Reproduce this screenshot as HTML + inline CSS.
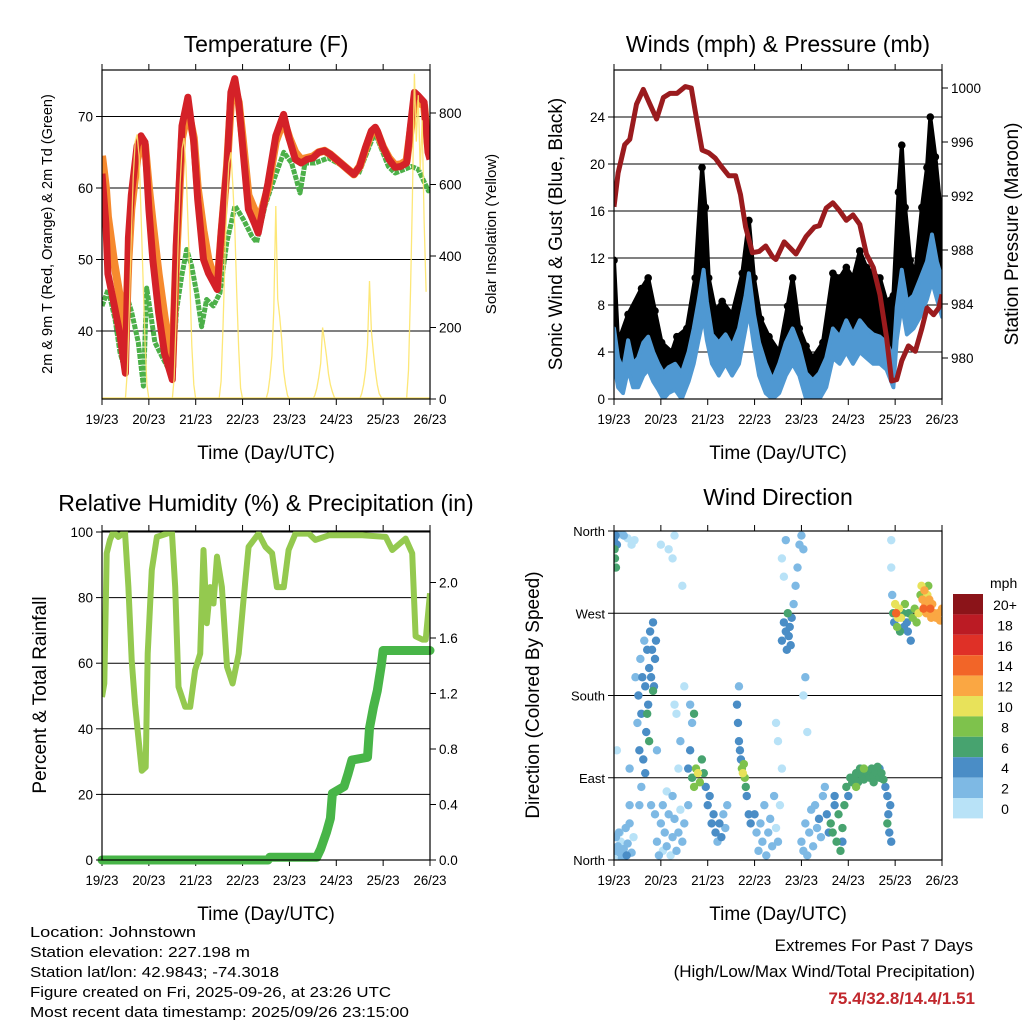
<!DOCTYPE html>
<html><head><meta charset="utf-8"><style>
html,body{margin:0;padding:0;background:#fff}
svg{display:block;font-family:"Liberation Sans",sans-serif}
</style></head><body>
<svg id="s" width="1024" height="1024" viewBox="0 0 1024 1024">
<defs>
<clipPath id="c1"><rect x="102" y="70" width="328" height="329"/></clipPath>
<clipPath id="c2"><rect x="614" y="70" width="328" height="329"/></clipPath>
<clipPath id="c3"><rect x="102" y="531" width="328" height="329"/></clipPath>
<clipPath id="c4"><rect x="614" y="531" width="328" height="329"/></clipPath>
</defs>
<g id="g1"></g>
<g id="g2"></g>
<g id="g3"></g>
<g id="g4"></g>
<g font-size="14.5">
<text x="30" y="937" textLength="166" lengthAdjust="spacingAndGlyphs">Location: Johnstown</text>
<text x="30" y="957" textLength="220" lengthAdjust="spacingAndGlyphs">Station elevation: 227.198 m</text>
<text x="30" y="977" textLength="249" lengthAdjust="spacingAndGlyphs">Station lat/lon: 42.9843; -74.3018</text>
<text x="30" y="997" textLength="361" lengthAdjust="spacingAndGlyphs">Figure created on Fri, 2025-09-26, at 23:26 UTC</text>
<text x="30" y="1017" textLength="379" lengthAdjust="spacingAndGlyphs">Most recent data timestamp: 2025/09/26 23:15:00</text>
</g>
<g font-size="17" text-anchor="end">
<text x="973" y="951">Extremes For Past 7 Days</text>
<text x="975" y="977">(High/Low/Max Wind/Total Precipitation)</text>
<text x="975" y="1004" fill="#c1272d" font-weight="bold">75.4/32.8/14.4/1.51</text>
</g>
</svg>
<script>
// ---------- data ----------
const dayLabels=["19/23","20/23","21/23","22/23","23/23","24/23","25/23","26/23"];
const tHours=[0,2,3,6,9,12,13.5,15,18,20,22,24,26,29,32,36,38,41,44,47,49,52,54.5,59,61,64,66,68,70,72,75,78,80,82,85,89,93,96,99,102,105,108,111,114,117,120,123,126,129,132,135,138,140,141,144,147,150,153,156,158,160,162,165,167,168];
const tRed=[62,55,48,44,39.8,34.1,53,59,65.9,67.3,66.4,57,50,42.6,36.9,33.2,51.9,68.7,72.7,66.4,58.4,50,48.1,45.8,53.7,63.1,73.4,75.3,72,65.9,57,55.1,53.7,56.5,60.7,67.3,70.3,66.8,64,63.5,64,64.2,65,65.2,64.7,64,63.3,62.6,61.9,63,65.7,68,68.5,68,65.7,64,62.9,63,63.5,68.7,73.4,72.9,72,65,64];
const tOrange=[64.5,60,56,50,45,38,50,57,64,66,66,60,55,48,42,35,50,67,71,67,60,54,50,46,53,63,72,74,72,67,59,57,55,57,60,66.5,69.5,67,65,64,64.2,64.4,65,65.2,64.7,64,63.3,62.6,61.9,63,65.5,67.8,68.3,67.8,65.7,64.2,63.2,63.3,63.8,68,72,72,71.5,66,65];
const tdHours=[0,3.2,6.7,9.2,11.8,12.6,15.2,18.6,21.2,22.9,24.6,27.1,30.6,36,38.2,40.8,43.4,45.9,48.5,51,53.6,57,60.4,63.9,68.1,72.4,76.7,79.2,83.5,86.9,93.1,97.1,99.7,101.4,104,109.1,115.9,131.3,139.8,146.7,150.1,158.6,162,167.2,168];
const tDew=[43.5,45.8,41.6,37,34.6,45,42.6,38.4,32.3,46,43,38.4,36.5,33.7,43,47.7,51.4,49.1,45.3,40.6,44.4,43.5,45.3,52.4,57.5,55.6,53.3,52.4,57.5,60.3,65,63.5,61,59.3,63.5,63.5,64.2,61.9,67.8,63,62.1,63,62.6,59.6,60];
const solarDayStart=[0,24,48,72,96,120,144];
const solarDaily=[
[0,80,250,450,620,720,740,680,520,340,160,40,0],
[0,60,230,430,600,700,730,650,500,330,150,40,0],
[0,50,200,400,560,660,690,600,480,300,140,30,0],
[0,20,60,120,250,540,280,230,170,80,40,10,0],
[0,10,30,60,100,200,160,120,70,40,20,5,0],
[0,15,40,80,150,330,190,130,80,40,15,5,0],
[0,80,300,560,910,720,850,640,780,500,300]];
const tempTicks=[40,50,60,70];
const solarTicks=[0,200,400,600,800];

const wHours=[0,2.1,4.6,7.2,9.8,12.4,15,17.5,20.1,22.7,25.3,27.9,31.3,34.7,38.2,40.8,43.3,45.9,47.6,50.2,53.7,57.1,60.5,64,67.4,69.1,71.7,74.3,77.7,81.2,84.6,88,91.5,94.9,98.4,101.8,105.2,108.7,112.1,115.6,119,122.4,125.9,129.3,132.8,136.2,139.6,143.1,144.8,147.4,150,153.4,156.8,160.3,162.9,165.4,168];
const wSpeed=[6,3.5,2.5,5,3,3.5,4.8,5.3,4,3,2.2,2.7,3,2.2,4,6,8.3,11,8.3,5.5,4.8,5.5,4.5,6,8.8,10.7,7.2,4.8,3,1.6,3,4.8,6,4.5,2.2,1.6,2.2,3.5,6,5.3,6.7,5.5,6.7,6,5.5,5.3,4.8,3.5,7.8,11,8.3,8.8,10.2,11.7,14,11.7,10.2];
const wMin=[3,1,0.5,2.5,1,1,2,2.5,1.5,0.8,0,0.5,0.8,0,1.5,3,5,7,5,3,2,3,2,3,6,7.5,4.5,2,0.5,0,0.5,2,3,2,0,0,0,1,3.5,3,4,3,4,3.5,3,3,2.5,1,5,8,5.5,6,7,8.5,10,8.5,7];
const gHours=[0,2.1,7.2,14.1,17.5,21,24.4,29.6,32.2,37.3,41.6,45.1,46.8,48.5,51.9,55.4,60.5,65.7,69.1,71.7,75.1,79.4,84.6,88.9,91.5,94.9,98.4,101.8,107,112.1,115.6,119,122.4,125.9,129.3,132.8,136.2,139.6,143.1,145.7,147.4,149.1,151.7,154.3,157.7,160.3,162,164.6,167.2,168];
const gSpeed=[11.8,4.8,7.2,9.4,10.3,7.5,4.8,4,5.3,6,10.3,19.7,16.3,10.3,7.5,8.3,7.2,10.7,15.2,10.3,6.8,5.3,4,7.9,10.3,6,4.5,3.5,4.8,10.7,10.3,11.2,10.3,12.6,11.2,10.7,10.3,8.3,8.8,17.6,21.6,16.3,11.8,10.7,16.3,19.7,24,20.6,16.3,11.8];
const pHours=[0,2.1,5.5,8.1,11.5,15,18.4,21.8,25.3,28.7,32.2,36.5,39.6,41.6,45.1,48.5,51.9,55.4,58.8,62.3,64.8,67.4,70.9,74.3,77.7,81.2,82.9,87.2,93.2,98.4,102.7,105.2,108.7,112.1,115.6,119,122.4,125.9,129.3,132.8,136.2,139.6,142.2,144.8,147.4,150.8,154.3,157.7,160.3,163.7,166.3,168];
const pValues=[991.2,993.7,995.8,996.2,998.8,999.9,998.8,997.7,999.3,999.6,999.6,1000.1,1000,998.3,995.4,995.2,994.8,994.1,993.5,993.5,992.1,989.7,987.8,987.9,988.3,987.5,987.3,988.6,987.7,989,989.7,989.8,991.1,991.5,990.9,990.2,990.6,989.9,987.7,986.7,984.7,981.5,978.3,978.4,979.8,980.9,980.5,982.2,983.7,983.2,983.7,984.7];
const windTicks=[0,4,8,12,16,20,24];
const presTicks=[980,984,988,992,996,1000];

const rhHours=[0,1.2,2.4,4.1,5.8,8.4,11.8,13.5,15.2,16.9,18.6,20.4,22.4,23.4,25.5,28.1,35.8,37.5,39.2,42.6,45.2,47.7,50.3,52,53.7,55.4,57.1,58.9,61.4,64,66.9,70,72.5,75.1,80.2,83.7,87.1,89.6,93.1,95.6,99.1,105.9,109.3,116.2,133.3,145.3,148.7,155.5,158.9,160.6,164.1,165.8,168];
const rhValues=[49.7,53.8,93.5,97.6,100,98.5,100,83.2,60.9,47.6,37.5,27.2,28.3,62.9,88.4,98.5,100,83.2,52.8,46.7,46.7,57.9,62.9,94.5,72.2,83.2,78.2,92.5,83.2,58.9,53.8,62.9,79.3,95.5,99.5,95.5,93.5,83.2,83.2,94.5,99.5,99.5,97.6,99,99,98.5,94.5,98,93.5,68.2,67.2,67.2,81.3];
const prHours=[0,85,86,110,112,115,117,118,124,126,128,136,137,139,141,143,144,168];
const prValues=[0,0,0.02,0.02,0.08,0.2,0.3,0.48,0.53,0.62,0.72,0.74,0.95,1.1,1.22,1.4,1.51,1.51];
const rhTicks=[0,20,40,60,80,100];
const prTicks=[0,0.4,0.8,1.2,1.6,2.0];

const dHours=[0,0.3,0.5,0.8,1,1.5,2,0.5,1,1.5,2,2.5,3,3.5,4,5,6,6.5,7,8,9,10,2.5,4,5,7,9,10.5,1.5,3,8,8,11,
12,12.5,13,13.5,14,14.5,15,15.5,16,16.5,17,17.5,18,18.5,19,19.5,20,20.5,21,21.5,22,18,20,17,16,14,13,19,21,
22,23,24,25,26,27,28,29,30,31,32,33,34,35,36,25,27,30,33,34,24,28,30,31,35,36,31,32,
38,39,40,41,42,43,44,45,46,47,48,49,50,51,52,53,54,55,56,57,58,40,41,39,38,
63,63.5,64,64.5,65,65.5,66,66.5,67,67.5,68,69,70,64,
72,73,74,75,76,77,78,79,80,81,82,83,84,85,86,84,83,
86,87,88,88.5,89,89.5,90,90.5,91,92,93,94,95,96,97,86,87,88,98,97,99,
96,97,98,99,100,101,102,103,104,105,106,107,108,109,110,
111,112,113,114,115,116,117,118,119,120,121,122,113,117,
123,124,125,126,127,128,129,130,131,132,133,134,135,136,137,138,139,124,128,133,136,
140,140.5,141,141.5,142,140,
142,142,142.5,143,143.5,144,144.5,145,145.5,146,146.5,147,148,148.5,149,150,150.5,151,152,153,154,155,156,157,157.5,158,158.5,159,159.5,160,160.5,161,161.5,162,162.5,163,164,165,166,167,168];
const dDeg=[350,340,330,355,320,345,358,10,25,5,15,30,8,20,2,12,35,5,18,40,8,25,356,358,355,352,345,350,120,30,60,100,200,
150,180,120,220,160,200,110,240,190,140,230,170,210,250,200,230,260,190,220,240,120,130,185,160,95,80,60,60,50,
20,5,40,10,30,15,50,5,25,45,10,30,55,20,40,60,75,70,100,130,345,340,330,355,300,190,170,160,
100,120,90,80,100,95,85,110,95,80,60,70,40,50,30,20,40,25,50,35,60,150,160,170,60,
170,150,130,120,110,100,95,105,90,80,70,50,40,190,
50,30,10,40,20,60,5,30,45,15,70,35,20,60,100,130,150,
240,260,250,230,270,245,255,235,265,280,300,320,345,355,340,330,310,350,200,180,140,
20,10,40,5,30,55,15,60,35,45,25,70,80,50,30,
40,30,60,20,50,10,35,60,80,70,90,85,70,20,
90,95,85,100,92,88,98,95,90,100,92,96,102,90,95,88,80,80,100,85,100,
70,50,30,60,20,40,
350,320,290,270,260,280,270,255,265,275,250,265,270,255,280,260,250,270,240,265,275,260,270,290,300,285,275,295,280,270,290,300,285,275,265,280,270,265,270,262,275];
const dSpeed=[5,6,6,5,6,4,3,2,2,1,2,2,2,1,2,2,2,4,2,2,2,1,1,1,2,1,1,1,1,1,2,2,2,
3,4,4,3,4,4,4,3,4,4,4,5,4,4,5,4,4,5,4,4,3,6,6,6,4,2,2,3,2,
2,2,2,1,2,2,2,1,2,2,2,2,1,3,2,2,1,2,1,2,1,1,1,1,1,1,1,1,
4,4,6,8,9,10,8,7,6,5,4,5,4,4,4,3,4,4,3,3,3,3,7,2,3,
4,4,4,4,4,8,10,9,8,6,4,4,4,3,
4,3,2,2,2,2,2,2,2,2,2,1,2,1,1,1,1,
4,4,4,4,6,4,4,4,4,3,3,3,2,2,2,1,1,2,2,1,1,
2,2,2,2,2,2,2,2,3,4,3,3,2,4,4,
6,6,5,6,6,6,6,6,6,5,6,6,4,4,
6,6,6,6,6,6,6,6,6,6,6,6,6,6,6,6,5,8,8,7,4,
4,4,4,5,4,6,
1,1,3,6,5,10,14,8,10,10,6,10,6,4,8,5,4,6,4,8,9,8,10,8,10,12,14,12,13,12,10,8,12,14,12,12,12,12,12,12,12];
const dirTicks=[0,90,180,270,360];
const dirLabels=["North","East","South","West","North"];
const spdBins=["0","2","4","6","8","10","12","14","16","18","20+"];
const spdColors=["#b8e2f7","#7eb9e4","#4a8dc6","#47a36f","#7ec24c","#e8e25a","#faa743","#f26528","#df3027","#bb1b24","#8b1419"];

// ---------- helpers ----------
const NS="http://www.w3.org/2000/svg";
function mk(parent,tag,attrs,text){const e=document.createElementNS(NS,tag);for(const k in attrs)e.setAttribute(k,attrs[k]);if(text!==undefined)e.textContent=text;parent.appendChild(e);return e;}
function pts(xs,ys,fx,fy){return xs.map((h,i)=>fx(h).toFixed(1)+","+fy(ys[i]).toFixed(1)).join(" ");}
function band(xa,ya,xb,yb,fx,fy){const a=xa.map((h,i)=>fx(h).toFixed(1)+","+fy(ya[i]).toFixed(1));const b=xb.map((h,i)=>fx(h).toFixed(1)+","+fy(yb[i]).toFixed(1)).reverse();return a.concat(b).join(" ");}

function frame(g,x0,y0,w,h,title,ty){
  const t=mk(g,"text",{x:x0+w/2,y:ty,"text-anchor":"middle","font-size":23},title);
  
  
  const fx=h2=>x0+h2*w/168;
  const xa=mk(g,"g",{});
  
  
  dayLabels.forEach((lab,i)=>{
    const x=fx(i*24);
    mk(xa,"line",{x1:x,x2:x,y1:y0+h,y2:y0+h+6,stroke:"#000"});
    mk(xa,"line",{x1:x,x2:x,y1:y0,y2:y0-6,stroke:"#000"});
    const tl=mk(xa,"text",{x:x,y:y0+h+25,"text-anchor":"middle","font-size":13.5,textLength:33,lengthAdjust:"spacingAndGlyphs"},lab);
    
    
  });
  const xt=mk(g,"text",{x:x0+w/2,y:y0+h+60,"text-anchor":"middle","font-size":19},"Time (Day/UTC)");
  
  
  return fx;
}
function box(g,x0,y0,w,h){const r=mk(g,"rect",{x:x0,y:y0,width:w,height:h,fill:"none",stroke:"#000","stroke-width":1.2});}
function grid(g,x0,w,ys){ys.forEach(y=>mk(g,"line",{x1:x0,x2:x0+w,y1:y,y2:y,stroke:"#000","stroke-width":1}));}
function yTicks(g,xEdge,side,vals,fy,labels,fs){
  vals.forEach((v,i)=>{
    const y=fy(v);
    const d=side<0?-6:6;
    mk(g,"line",{x1:xEdge,x2:xEdge+d,y1:y,y2:y,stroke:"#000"});
    const t=mk(g,"text",{x:xEdge+(side<0?-9:9),y:y+5,"text-anchor":side<0?"end":"start","font-size":fs||13.5},labels?labels[i]:String(v));
    
    
  });
}
function vTitle(g,x,y,txt,fs,name){const t=mk(g,"text",{x:x,y:y,"text-anchor":"middle","font-size":fs,transform:`rotate(-90 ${x} ${y})`},txt);}

// ---------- panel 1: temperature ----------
(function(){
  const g=document.getElementById('g1');
  const X0=102,Y0=70,W=328,H=329;
  const fx=frame(g,X0,Y0,W,H,"Temperature (F)",52);
  const yT=t=>331-(t-40)*7.15, yS=v=>399-v*0.3575;
  grid(g,X0,W,tempTicks.map(yT));
  const c=mk(g,"g",{"clip-path":"url(#c1)"});
  const gd=mk(c,"polyline",{points:pts(tdHours,tDew,fx,yT),fill:"none",stroke:"#4cb049","stroke-width":5,"stroke-linejoin":"round","stroke-dasharray":"5 1"});
  
  
  const go=mk(c,"polyline",{points:pts(tHours,tOrange,fx,yT),fill:"none",stroke:"#f68a2e","stroke-width":8,"stroke-linejoin":"round"});
  
  
  const gr=mk(c,"polyline",{points:pts(tHours,tRed,fx,yT),fill:"none",stroke:"#d42128","stroke-width":7,"stroke-linejoin":"round"});
  
  
  solarDaily.forEach((arr,d)=>{
    const hs=arr.map((v,i)=>solarDayStart[d]+12+i);
    const p=mk(c,"polyline",{points:pts(hs,arr,fx,yS),fill:"none",stroke:"#fde468","stroke-width":1.3,opacity:0.9});
    
    
  });
  mk(c,"line",{x1:X0,x2:X0+W,y1:398,y2:398,stroke:"#fde468","stroke-width":1.3});
  box(g,X0,Y0,W,H);
  yTicks(g,X0,-1,tempTicks,yT);
  yTicks(g,X0+W,1,solarTicks,yS);
  vTitle(g,52,234,"2m & 9m T (Red, Orange) & 2m Td (Green)",14.5,'y-axis-title-left');
  vTitle(g,496,234,"Solar Insolation (Yellow)",15,'y-axis-title-right');
})();

// ---------- panel 2: winds ----------
(function(){
  const g=document.getElementById('g2');
  const X0=614,Y0=70,W=328,H=329;
  const fx=frame(g,X0,Y0,W,H,"Winds (mph) & Pressure (mb)",52);
  const yW=w=>399-w*11.75, yP=p=>358-(p-980)*13.5;
  grid(g,X0,W,windTicks.map(yW));
  const c=mk(g,"g",{"clip-path":"url(#c2)"});
  const ga=mk(c,"polygon",{points:band(gHours,gSpeed,wHours,wSpeed,fx,yW),fill:"#000",stroke:"#000","stroke-width":4,"stroke-linejoin":"round"});
  
  
  gHours.forEach((h,i)=>{
    const d=mk(c,"circle",{cx:fx(h),cy:yW(gSpeed[i]),r:3.8,fill:"#000"});
    
    
  });
  const wl=mk(c,"polygon",{points:band(wHours,wSpeed,wHours,wMin,fx,yW),fill:"#4f98d2",stroke:"#4f98d2","stroke-width":4,"stroke-linejoin":"round"});
  
  
  const pl=mk(c,"polyline",{points:pts(pHours,pValues,fx,yP),fill:"none",stroke:"#9a1b1e","stroke-width":5,"stroke-linejoin":"round"});
  
  
  box(g,X0,Y0,W,H);
  yTicks(g,X0,-1,windTicks,yW);
  yTicks(g,X0+W,1,presTicks,yP);
  vTitle(g,562,234,"Sonic Wind & Gust (Blue, Black)",19,'y-axis-title-left');
  vTitle(g,1018,234,"Station Pressure (Maroon)",19,'y-axis-title-right');
})();

// ---------- panel 3: RH & precip ----------
(function(){
  const g=document.getElementById('g3');
  const X0=102,Y0=531,W=328,H=329;
  const fx=frame(g,X0,Y0,W,H,"Relative Humidity (%) & Precipitation (in)",511);
  const yR=r=>860-r*3.28, yPr=v=>860-v*138.75;
  grid(g,X0,W,rhTicks.map(yR));
  const c=mk(g,"g",{"clip-path":"url(#c3)"});
  const rl=mk(c,"polyline",{points:pts(rhHours,rhValues,fx,yR),fill:"none",stroke:"#94c94f","stroke-width":6,"stroke-linejoin":"round"});
  
  
  const pl=mk(g,"polyline",{points:pts(prHours,prValues,fx,yPr),fill:"none",stroke:"#48b548","stroke-width":9,"stroke-linejoin":"round","stroke-linecap":"round"});
  
  
  box(g,X0,Y0,W,H);
  yTicks(g,X0,-1,rhTicks,yR);
  yTicks(g,X0+W,1,prTicks,yPr,prTicks.map(v=>v.toFixed(1)));
  vTitle(g,46,695,"Percent & Total Rainfall",19,'y-axis-title-left');
})();

// ---------- panel 4: wind direction ----------
(function(){
  const g=document.getElementById('g4');
  const X0=614,Y0=531,W=328,H=329;
  const fx=frame(g,X0,Y0,W,H,"Wind Direction",505);
  const yD=d=>860-d*H/360;
  grid(g,X0,W,dirTicks.map(yD));
  const c=mk(g,"g",{"clip-path":"url(#c4)"});
  const idx=dHours.map((_,i)=>i).sort((a,b)=>dSpeed[a]-dSpeed[b]);
  idx.forEach(i=>{
    const b=Math.min(10,Math.floor(dSpeed[i]/2));
    const d=mk(c,"circle",{cx:fx(dHours[i]),cy:yD(dDeg[i]),r:4.2,fill:spdColors[b]});
    
    
  });
  box(g,X0,Y0,W,H);
  yTicks(g,X0,-1,dirTicks,yD,dirLabels,13);
  vTitle(g,539,695,"Direction (Colored By Speed)",19,'y-axis-title-left');
  const lg=mk(g,"g",{});
  
  
  mk(lg,"text",{x:990,y:588,"font-size":14},"mph");
  spdBins.forEach((lab,i)=>{
    const k=10-i; const y=594+i*20.4;
    const r=mk(lg,"rect",{x:953,y:y,width:30,height:20.4,fill:spdColors[k]});
    
    
    const t=mk(lg,"text",{x:1005,y:y+16,"text-anchor":"middle","font-size":14},spdBins[k]);
    
    
  });
})();
</script>
</body></html>
